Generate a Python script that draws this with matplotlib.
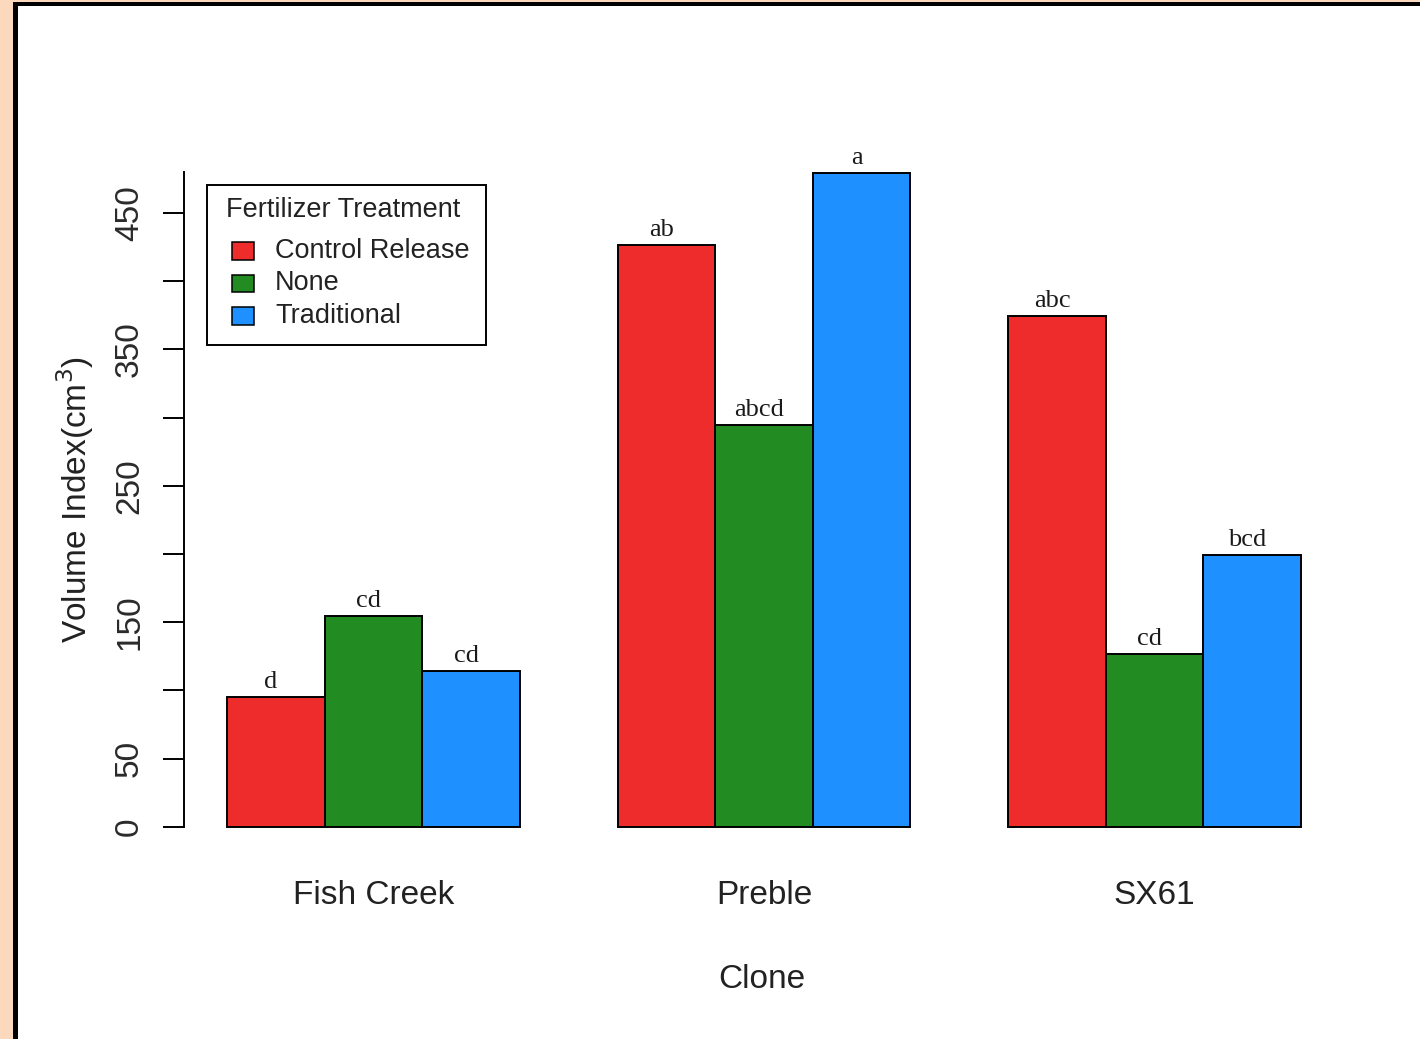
import matplotlib
matplotlib.use("Agg")
import matplotlib.pyplot as plt
import matplotlib.transforms as mtransforms
from matplotlib.patches import Rectangle

# Data
clones = ["Fish Creek", "Preble", "SX61"]
treatments = ["Control Release", "None", "Traditional"]
control_release = [95.3, 426.6, 374.5]
none_vals = [154.6, 294.6, 126.8]
traditional = [114.3, 479.3, 199.4]
control_letters = ["d", "ab", "abc"]
none_letters = ["cd", "abcd", "cd"]
traditional_letters = ["cd", "a", "bcd"]
y_ticks = [0, 50, 100, 150, 200, 250, 300, 350, 400, 450]
y_ticklabels = ["0", "50", "", "150", "", "250", "", "350", "", "450"]

colors = ["#EE2C2C", "#228B22", "#1E90FF"]
sans = ["Liberation Sans", "DejaVu Sans"]
serif = ["Liberation Serif", "DejaVu Serif"]

fig = plt.figure(figsize=(14.2, 10.39), dpi=100)
W, H = 1420, 1039


def fx(px):
    return px / W


def fy(py):
    return 1 - py / H


# page frame: peach margin with a black rule on the left and top
fig.patches.append(Rectangle((0, 0), fx(13), 1, transform=fig.transFigure,
                             facecolor="#FCD9BD", edgecolor="none", zorder=0))
fig.patches.append(Rectangle((0, fy(2)), 1, 2 / H, transform=fig.transFigure,
                             facecolor="#FCD9BD", edgecolor="none", zorder=0))
fig.patches.append(Rectangle((fx(13), 0), fx(4.5), fy(2), transform=fig.transFigure,
                             facecolor="black", edgecolor="none", zorder=1))
fig.patches.append(Rectangle((fx(13), fy(6)), 1 - fx(13), 4 / H,
                             transform=fig.transFigure,
                             facecolor="black", edgecolor="none", zorder=1))

left, right = fx(184), fx(1344)
top_px, bot_px = 146, 853
ax = fig.add_axes([left, fy(bot_px), right - left, (bot_px - top_px) / H])
ax.set_xlim(0.56, 12.44)
ax.set_ylim(-19.2, 499.2)

series = [control_release, none_vals, traditional]
letters = [control_letters, none_letters, traditional_letters]
for g in range(len(clones)):
    base = 1 + 4 * g
    for s in range(3):
        x0 = base + s
        v = series[s][g]
        ax.bar(x0, v, width=1.0, align="edge", color=colors[s],
               edgecolor="black", linewidth=1.4, zorder=2)
        ax.text(x0 + 0.45, v + 3, letters[s][g], ha="center", va="bottom",
                fontsize=19, family=serif, color="#1a1a1a")

for sp in ["top", "right", "bottom"]:
    ax.spines[sp].set_visible(False)
ax.spines["left"].set_bounds(0, 480)
ax.spines["left"].set_linewidth(1.4)
ax.set_yticks(y_ticks)
ax.set_yticklabels(y_ticklabels, rotation=90, va="center",
                   fontsize=24, family=sans, color="#2a2a2a")
ax.tick_params(axis="y", length=15, width=1.4, pad=13)
ax.set_xticks([])

# group names under each cluster of bars
xdata_yfig = mtransforms.blended_transform_factory(ax.transData, fig.transFigure)
centers = [1 + 4 * g + 1.5 for g in range(3)]
for c, name in zip(centers, clones):
    ax.text(c, fy(896), name, transform=xdata_yfig, ha="center", va="center",
            fontsize=24, family=sans, color="#222222", clip_on=False)
fig.text(fx(762), fy(979), "Clone", ha="center", va="center",
         fontsize=24, family=sans, color="#222222")

fig.text(fx(75), fy(500), r"Volume Index(cm$^{3}$)", rotation=90,
         ha="center", va="center", fontsize=24, family=sans, color="#222222")

# legend box
fig.patches.append(Rectangle((fx(207), fy(345)), fx(486) - fx(207), fy(185) - fy(345),
                             transform=fig.transFigure, facecolor="white",
                             edgecolor="black", linewidth=1.4, zorder=5))
fig.text(fx(226), fy(210), "Fertilizer Treatment", ha="left", va="center",
         fontsize=19.5, family=sans, color="#222222", zorder=6)
for i, (lab, col) in enumerate(zip(treatments, colors)):
    yc = 251 + 32.5 * i
    fig.patches.append(Rectangle((fx(232), fy(yc + 8.5)), fx(22), 17 / H,
                                 transform=fig.transFigure, facecolor=col,
                                 edgecolor="black", linewidth=1.1, zorder=6))
    fig.text(fx(275), fy(yc), lab, ha="left", va="center",
             fontsize=19.5, family=sans, color="#222222", zorder=6)

fig.savefig("out.png", dpi=100, facecolor="white")
